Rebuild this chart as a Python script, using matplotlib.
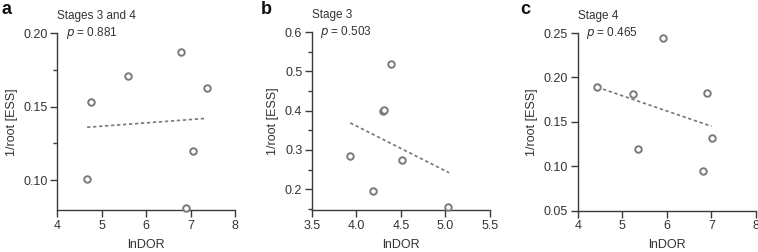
import numpy as np
import matplotlib
matplotlib.use("Agg")
import matplotlib.pyplot as plt
from matplotlib.ticker import MultipleLocator

plt.rcParams['font.family'] = ['Liberation Sans', 'DejaVu Sans']

# --- data ---
a_x = [4.67, 4.75, 5.59, 6.78, 7.36, 7.05, 6.90]
a_y = [0.101, 0.153, 0.171, 0.187, 0.163, 0.120, 0.081]
a_fit_x = [4.67, 7.32]
a_fit_y = [0.136, 0.142]

b_x = [3.93, 4.18, 4.30, 4.31, 4.39, 4.51, 5.03]
b_y = [0.284, 0.195, 0.400, 0.402, 0.520, 0.274, 0.155]
b_fit_x = [3.93, 5.04]
b_fit_y = [0.369, 0.242]

c_x = [4.44, 5.23, 5.35, 5.92, 6.90, 7.01, 6.81]
c_y = [0.189, 0.181, 0.119, 0.244, 0.182, 0.132, 0.095]
c_fit_x = [4.44, 7.00]
c_fit_y = [0.189, 0.145]

panels = [
    dict(label='a', lx=0.002, title='Stages 3 and 4', p='0.881', x=a_x, y=a_y, fx=a_fit_x, fy=a_fit_y,
         xlim=(4, 8), xticks=[4, 5, 6, 7, 8], xfmt='%d',
         ylim=(0.0795, 0.20), yticks=[0.10, 0.15, 0.20], yminor=0.025, yfmt='%.2f',
         pos=[0.0756, 0.1655, 0.2345, 0.7025]),
    dict(label='b', lx=0.344, title='Stage 3', p='0.503', x=b_x, y=b_y, fx=b_fit_x, fy=b_fit_y,
         xlim=(3.5, 5.5), xticks=[3.5, 4.0, 4.5, 5.0, 5.5], xfmt='%.1f',
         ylim=(0.147, 0.60), yticks=[0.2, 0.3, 0.4, 0.5, 0.6], yminor=0.05, yfmt='%.1f',
         pos=[0.4116, 0.1667, 0.2348, 0.7053]),
    dict(label='c', lx=0.687, title='Stage 4', p='0.465', x=c_x, y=c_y, fx=c_fit_x, fy=c_fit_y,
         xlim=(4, 8), xticks=[4, 5, 6, 7, 8], xfmt='%d',
         ylim=(0.05, 0.25), yticks=[0.05, 0.10, 0.15, 0.20, 0.25], yminor=None, yfmt='%.2f',
         pos=[0.7622, 0.164, 0.2352, 0.705]),
]

axis_col = '#3a3a3a'
text_col = '#333333'
mark_col = '#7a7a7a'

fig = plt.figure(figsize=(7.58, 2.52), dpi=100)

for p in panels:
    ax = fig.add_axes(p['pos'])
    # dashed regression line
    ax.plot(p['fx'], p['fy'], color='#777777', lw=1.2, ls=(0, (2, 1.6)))
    ax.scatter(p['x'], p['y'], s=22, facecolors='white', edgecolors=mark_col,
               linewidths=1.4, zorder=3, clip_on=False)
    ax.set_xlim(*p['xlim'])
    ax.set_ylim(*p['ylim'])
    ax.set_xticks(p['xticks'])
    ax.set_xticklabels([p['xfmt'] % v for v in p['xticks']])
    ax.set_yticks(p['yticks'])
    ax.set_yticklabels([p['yfmt'] % v for v in p['yticks']])
    if p['yminor']:
        ax.yaxis.set_minor_locator(MultipleLocator(p['yminor']))
    for s in ['top', 'right']:
        ax.spines[s].set_visible(False)
    for s in ['left', 'bottom']:
        ax.spines[s].set_color(axis_col)
        ax.spines[s].set_linewidth(1.0)
    ax.tick_params(which='major', length=5, width=1.0, color=axis_col,
                   labelsize=9, labelcolor=text_col, pad=2)
    ax.tick_params(which='minor', length=3, width=1.0, color=axis_col)
    ax.set_xlabel('lnDOR', fontsize=9, color=text_col, labelpad=5)
    ax.set_ylabel('1/root [ESS]', fontsize=9, color=text_col, labelpad=4)
    ax.annotate(p['title'], xy=(0, 1), xycoords='axes fraction', xytext=(0, 8),
                textcoords='offset points', fontsize=8.5, color=text_col,
                ha='left', va='bottom')
    ax.annotate('$p$ = ' + p['p'], xy=(0, 1), xycoords='axes fraction', xytext=(6, 0),
                textcoords='offset points', fontsize=8.5, color=text_col,
                ha='left', va='center')
    fig.text(p['lx'], 0.995, p['label'], fontsize=13, fontweight='bold',
             color='#111111', ha='left', va='top')

fig.savefig('out.png', dpi=100)
